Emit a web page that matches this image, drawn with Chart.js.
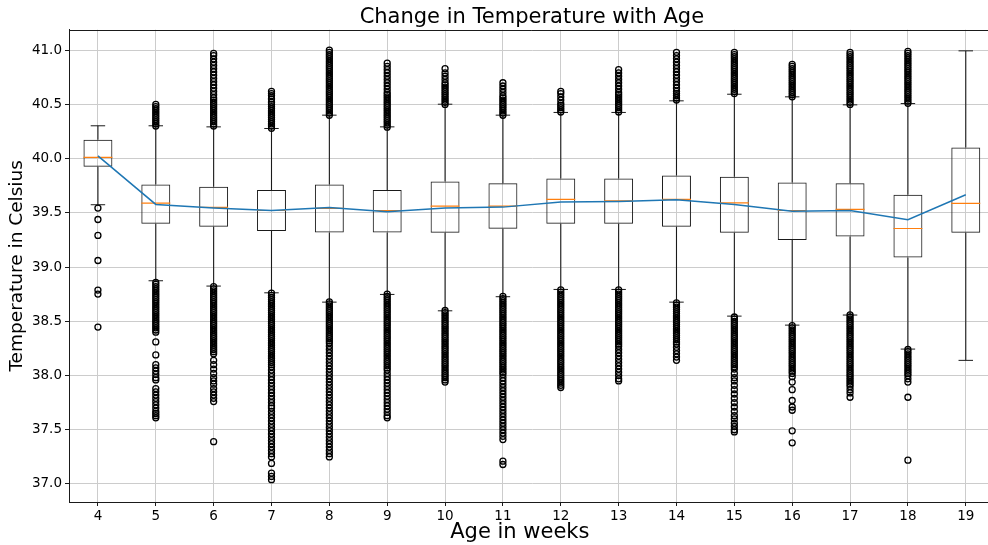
<!DOCTYPE html>
<html lang="en">
<head>
  <meta charset="UTF-8" />
  <title>Change in Temperature with Age</title>
  <style>
    html, body {
      margin: 0;
      padding: 0;
      background: #fff;
      overflow: hidden;
    }

    #wrap {
      width: 1000px;
      height: 545px;
    }
  </style>
</head>
<body>
  <div id="wrap">
    <canvas id="boxChart" width="1000" height="545"></canvas>
  </div>

  <script src="https://cdn.jsdelivr.net/npm/chart.js"></script>
  <script>
    // datos
    const weeks = [4, 5, 6, 7, 8, 9, 10, 11, 12, 13, 14, 15, 16, 17, 18, 19];
    const q1 = [39.925, 39.40, 39.372, 39.332, 39.32, 39.32, 39.316, 39.353, 39.40, 39.40, 39.372, 39.316, 39.249, 39.283, 39.089, 39.316];
    const q3 = [40.174, 39.762, 39.740, 39.710, 39.762, 39.710, 39.790, 39.774, 39.817, 39.817, 39.845, 39.833, 39.780, 39.774, 39.667, 40.103];
    const medians = [40.011, 39.590, 39.550, 39.522, 39.541, 39.522, 39.562, 39.562, 39.624, 39.611, 39.624, 39.593, 39.522, 39.532, 39.356, 39.587];
    const whiskerLo = [39.575, 38.874, 38.825, 38.763, 38.677, 38.748, 38.597, 38.727, 38.794, 38.794, 38.677, 38.548, 38.465, 38.558, 38.244, 38.140];
    const whiskerHi = [40.303, 40.303, 40.293, 40.278, 40.401, 40.293, 40.502, 40.401, 40.426, 40.426, 40.533, 40.594, 40.570, 40.496, 40.508, 40.994];
    const means = [40.026, 39.578, 39.545, 39.522, 39.55, 39.51, 39.545, 39.553, 39.60, 39.605, 39.62, 39.577, 39.515, 39.522, 39.436, 39.667];
    const yTicks = [37.0, 37.5, 38.0, 38.5, 39.0, 39.5, 40.0, 40.5, 41.0];

    const fliersHigh = [
      [],
      [40.30, 40.32, 40.34, 40.36, 40.38, 40.40, 40.42, 40.44, 40.46, 40.48, 40.50],
      [40.30, 40.32, 40.34, 40.36, 40.38, 40.40, 40.42, 40.44, 40.46, 40.48, 40.50, 40.52, 40.54, 40.56, 40.59, 40.62, 40.65, 40.68, 40.71, 40.74, 40.77, 40.80, 40.83, 40.86, 40.89, 40.92, 40.95, 40.97],
      [40.28, 40.30, 40.32, 40.34, 40.36, 40.38, 40.40, 40.42, 40.44, 40.46, 40.48, 40.50, 40.52, 40.55, 40.58, 40.60, 40.62],
      [40.40, 40.42, 40.44, 40.46, 40.48, 40.50, 40.52, 40.54, 40.56, 40.58, 40.60, 40.62, 40.64, 40.66, 40.68, 40.70, 40.72, 40.74, 40.76, 40.78, 40.80, 40.82, 40.84, 40.86, 40.88, 40.90, 40.92, 40.94, 40.96, 40.98, 41.00],
      [40.29, 40.31, 40.33, 40.35, 40.37, 40.39, 40.41, 40.43, 40.45, 40.47, 40.49, 40.51, 40.53, 40.55, 40.57, 40.59, 40.61, 40.64, 40.67, 40.70, 40.73, 40.76, 40.79, 40.82, 40.85, 40.88],
      [40.50, 40.52, 40.54, 40.56, 40.58, 40.60, 40.62, 40.64, 40.66, 40.68, 40.70, 40.73, 40.76, 40.79, 40.83],
      [40.40, 40.42, 40.44, 40.46, 40.48, 40.50, 40.52, 40.54, 40.56, 40.58, 40.61, 40.64, 40.67, 40.70],
      [40.43, 40.45, 40.47, 40.49, 40.51, 40.54, 40.57, 40.60, 40.62],
      [40.43, 40.45, 40.47, 40.49, 40.51, 40.53, 40.55, 40.57, 40.59, 40.61, 40.64, 40.67, 40.70, 40.73, 40.76, 40.79, 40.82],
      [40.54, 40.56, 40.58, 40.60, 40.62, 40.65, 40.68, 40.71, 40.74, 40.77, 40.80, 40.83, 40.86, 40.89, 40.92, 40.95, 40.98],
      [40.60, 40.62, 40.64, 40.66, 40.68, 40.70, 40.72, 40.74, 40.76, 40.78, 40.80, 40.82, 40.84, 40.86, 40.88, 40.90, 40.92, 40.94, 40.96, 40.98],
      [40.57, 40.59, 40.61, 40.63, 40.65, 40.67, 40.69, 40.71, 40.73, 40.75, 40.77, 40.79, 40.81, 40.83, 40.85, 40.87],
      [40.50, 40.52, 40.54, 40.56, 40.58, 40.60, 40.62, 40.64, 40.66, 40.68, 40.70, 40.72, 40.74, 40.76, 40.78, 40.80, 40.82, 40.84, 40.86, 40.88, 40.90, 40.92, 40.94, 40.96, 40.98],
      [40.51, 40.53, 40.55, 40.57, 40.59, 40.61, 40.63, 40.65, 40.67, 40.69, 40.71, 40.73, 40.75, 40.77, 40.79, 40.81, 40.83, 40.85, 40.87, 40.89, 40.91, 40.93, 40.95, 40.97, 40.99],
      []
    ];

    const fliersLow = [
      [39.544, 39.439, 39.292, 39.061, 38.788, 38.751, 38.447],
      [38.86, 38.84, 38.82, 38.80, 38.78, 38.76, 38.74, 38.72, 38.70, 38.68, 38.66, 38.64, 38.62, 38.60, 38.58, 38.56, 38.54, 38.52, 38.50, 38.48, 38.46, 38.44, 38.42, 38.40, 38.31, 38.19, 38.10, 38.07, 38.04, 38.01, 37.98, 37.96, 37.88, 37.85, 37.82, 37.79, 37.76, 37.73, 37.70, 37.67, 37.65, 37.63, 37.61],
      [38.82, 38.80, 38.78, 38.76, 38.74, 38.72, 38.70, 38.68, 38.66, 38.64, 38.62, 38.60, 38.58, 38.56, 38.54, 38.52, 38.50, 38.48, 38.46, 38.44, 38.42, 38.40, 38.38, 38.36, 38.34, 38.32, 38.30, 38.28, 38.26, 38.24, 38.22, 38.20, 38.14, 38.10, 38.06, 38.02, 37.98, 37.95, 37.92, 37.88, 37.85, 37.82, 37.79, 37.76, 37.39],
      [38.76, 38.74, 38.72, 38.70, 38.68, 38.66, 38.64, 38.62, 38.60, 38.58, 38.56, 38.54, 38.52, 38.50, 38.48, 38.46, 38.44, 38.42, 38.40, 38.38, 38.36, 38.34, 38.32, 38.30, 38.28, 38.26, 38.24, 38.22, 38.20, 38.18, 38.16, 38.14, 38.12, 38.10, 38.08, 38.05, 38.02, 37.99, 37.96, 37.93, 37.90, 37.87, 37.84, 37.81, 37.78, 37.75, 37.72, 37.70, 37.67, 37.64, 37.61, 37.58, 37.55, 37.52, 37.49, 37.46, 37.43, 37.40, 37.37, 37.34, 37.31, 37.28, 37.25, 37.19, 37.10, 37.07, 37.04],
      [38.68, 38.66, 38.64, 38.62, 38.60, 38.58, 38.56, 38.54, 38.52, 38.50, 38.48, 38.46, 38.44, 38.42, 38.40, 38.38, 38.36, 38.34, 38.32, 38.30, 38.27, 38.24, 38.21, 38.18, 38.15, 38.12, 38.09, 38.06, 38.03, 38.00, 37.97, 37.94, 37.91, 37.88, 37.85, 37.82, 37.79, 37.76, 37.73, 37.70, 37.67, 37.64, 37.61, 37.58, 37.55, 37.52, 37.49, 37.46, 37.43, 37.40, 37.37, 37.34, 37.31, 37.28, 37.25],
      [38.75, 38.73, 38.71, 38.69, 38.67, 38.65, 38.63, 38.61, 38.59, 38.57, 38.55, 38.53, 38.51, 38.49, 38.47, 38.45, 38.43, 38.41, 38.39, 38.37, 38.35, 38.33, 38.31, 38.29, 38.27, 38.25, 38.23, 38.21, 38.19, 38.17, 38.15, 38.13, 38.11, 38.09, 38.07, 38.05, 38.02, 37.99, 37.96, 37.93, 37.90, 37.87, 37.84, 37.81, 37.78, 37.75, 37.72, 37.69, 37.66, 37.63, 37.61],
      [38.60, 38.58, 38.56, 38.54, 38.52, 38.50, 38.48, 38.46, 38.44, 38.42, 38.40, 38.38, 38.36, 38.34, 38.32, 38.30, 38.28, 38.26, 38.24, 38.22, 38.20, 38.18, 38.16, 38.14, 38.12, 38.10, 38.08, 38.06, 38.04, 38.02, 38.00, 37.98, 37.96, 37.94],
      [38.73, 38.71, 38.69, 38.67, 38.65, 38.63, 38.61, 38.59, 38.57, 38.55, 38.53, 38.51, 38.49, 38.47, 38.45, 38.43, 38.41, 38.39, 38.37, 38.35, 38.33, 38.31, 38.29, 38.27, 38.25, 38.23, 38.21, 38.19, 38.17, 38.15, 38.13, 38.11, 38.09, 38.07, 38.05, 38.03, 38.01, 37.98, 37.95, 37.92, 37.89, 37.86, 37.83, 37.80, 37.77, 37.74, 37.71, 37.68, 37.65, 37.62, 37.59, 37.56, 37.53, 37.50, 37.47, 37.44, 37.41, 37.21, 37.18],
      [38.79, 38.77, 38.75, 38.73, 38.71, 38.69, 38.67, 38.65, 38.63, 38.61, 38.59, 38.57, 38.55, 38.53, 38.51, 38.49, 38.47, 38.45, 38.43, 38.41, 38.39, 38.37, 38.35, 38.33, 38.31, 38.29, 38.27, 38.25, 38.23, 38.21, 38.19, 38.17, 38.15, 38.13, 38.11, 38.09, 38.07, 38.05, 38.03, 38.01, 37.99, 37.97, 37.95, 37.93, 37.91, 37.89],
      [38.79, 38.77, 38.75, 38.73, 38.71, 38.69, 38.67, 38.65, 38.63, 38.61, 38.59, 38.57, 38.55, 38.53, 38.51, 38.49, 38.47, 38.45, 38.43, 38.41, 38.39, 38.37, 38.35, 38.33, 38.31, 38.29, 38.27, 38.24, 38.21, 38.18, 38.15, 38.12, 38.09, 38.06, 38.03, 38.00, 37.97, 37.95],
      [38.67, 38.65, 38.63, 38.61, 38.59, 38.57, 38.55, 38.53, 38.51, 38.49, 38.47, 38.45, 38.43, 38.41, 38.39, 38.37, 38.35, 38.33, 38.31, 38.29, 38.26, 38.23, 38.20, 38.17, 38.14],
      [38.54, 38.52, 38.50, 38.48, 38.46, 38.44, 38.42, 38.40, 38.38, 38.36, 38.34, 38.32, 38.30, 38.28, 38.26, 38.24, 38.22, 38.20, 38.18, 38.16, 38.14, 38.12, 38.10, 38.08, 38.06, 38.02, 37.98, 37.95, 37.91, 37.87, 37.83, 37.79, 37.75, 37.71, 37.67, 37.63, 37.60, 37.56, 37.53, 37.50, 37.48],
      [38.46, 38.44, 38.42, 38.40, 38.38, 38.36, 38.34, 38.32, 38.30, 38.28, 38.26, 38.24, 38.22, 38.20, 38.18, 38.16, 38.14, 38.12, 38.10, 38.08, 38.06, 38.04, 38.02, 37.99, 37.94, 37.87, 37.77, 37.71, 37.68, 37.49, 37.38],
      [38.56, 38.54, 38.52, 38.50, 38.48, 38.46, 38.44, 38.42, 38.40, 38.38, 38.36, 38.34, 38.32, 38.30, 38.28, 38.26, 38.24, 38.22, 38.20, 38.18, 38.16, 38.14, 38.12, 38.10, 38.08, 38.06, 38.04, 38.02, 38.00, 37.98, 37.96, 37.94, 37.92, 37.90, 37.87, 37.84, 37.80],
      [38.24, 38.22, 38.20, 38.18, 38.16, 38.14, 38.12, 38.10, 38.08, 38.06, 38.04, 38.02, 38.00, 37.97, 37.94, 37.80, 37.22],
      []
    ];

    const FONT = "'DejaVu Sans', sans-serif";
    const INK = '#1a1a1a';

    // medio ancho en pixeles, sacado de la escala x
    function halfWidth(ctx, units) {
      const s = ctx.chart.scales.x;
      return Math.abs(s.getPixelForValue(units) - s.getPixelForValue(0));
    }

    const boxData = weeks.map((w, i) => ({ x: w, y: [q1[i], q3[i]] }));

    const whiskerData = [];
    weeks.forEach((w, i) => {
      whiskerData.push({ x: w, y: q3[i] }, { x: w, y: whiskerHi[i] }, { x: w, y: null });
      whiskerData.push({ x: w, y: q1[i] }, { x: w, y: whiskerLo[i] }, { x: w, y: null });
    });

    const capData = [];
    weeks.forEach((w, i) => {
      capData.push({ x: w, y: whiskerHi[i] }, { x: w, y: whiskerLo[i] });
    });

    const medianData = weeks.map((w, i) => ({ x: w, y: medians[i] }));
    const meanData = weeks.map((w, i) => ({ x: w, y: means[i] }));

    const flierData = [];
    weeks.forEach((w, i) => {
      fliersHigh[i].forEach(v => flierData.push({ x: w, y: v }));
      fliersLow[i].forEach(v => flierData.push({ x: w, y: v }));
    });

    // marco de arriba y etiqueta del eje x (un poco a la izquierda, como en el original)
    const extras = {
      id: 'extras',
      afterDraw(chart) {
        const { ctx, chartArea } = chart;
        ctx.save();
        ctx.strokeStyle = INK;
        ctx.lineWidth = 1;
        ctx.beginPath();
        ctx.moveTo(chartArea.left, Math.round(chartArea.top) + 0.5);
        ctx.lineTo(chartArea.right, Math.round(chartArea.top) + 0.5);
        ctx.stroke();

        ctx.fillStyle = '#000';
        ctx.font = '21px ' + FONT;
        ctx.textAlign = 'center';
        ctx.textBaseline = 'middle';
        ctx.fillText('Age in weeks', (chartArea.left + chartArea.right) / 2 - 12, 533);
        ctx.restore();
      }
    };

    const chart = new Chart(document.getElementById('boxChart'), {
      type: 'bar',
      data: {
        datasets: [
          {
            type: 'line',
            data: meanData,
            borderColor: '#1f77b4',
            borderWidth: 1.5,
            pointRadius: 0,
            tension: 0,
            order: 0
          },
          {
            type: 'scatter',
            data: flierData,
            pointStyle: 'circle',
            pointRadius: 3,
            backgroundColor: 'rgba(0,0,0,0)',
            borderColor: '#000',
            borderWidth: 1.3,
            order: 1
          },
          {
            type: 'scatter',
            data: medianData,
            pointStyle: 'line',
            pointRadius: (c) => halfWidth(c, 0.25),
            borderColor: '#ff7f0e',
            borderWidth: 1.2,
            order: 2
          },
          {
            type: 'scatter',
            data: capData,
            pointStyle: 'line',
            pointRadius: (c) => halfWidth(c, 0.125),
            borderColor: INK,
            borderWidth: 1,
            order: 3
          },
          {
            type: 'line',
            data: whiskerData,
            borderColor: INK,
            borderWidth: 1.1,
            pointRadius: 0,
            spanGaps: false,
            order: 4
          },
          {
            type: 'bar',
            data: boxData,
            backgroundColor: 'rgba(0,0,0,0)',
            borderColor: INK,
            borderWidth: 1,
            borderSkipped: false,
            barPercentage: 0.5,
            categoryPercentage: 1.0,
            order: 5
          }
        ]
      },
      options: {
        responsive: false,
        animation: false,
        events: [],
        layout: { padding: { left: 0, right: 3, top: 0, bottom: 0 } },
        plugins: {
          legend: { display: false },
          tooltip: { enabled: false },
          title: {
            display: true,
            text: 'Change in Temperature with Age',
            fullSize: false,
            color: '#000',
            font: { family: FONT, size: 21, weight: 'normal', lineHeight: 1.2 },
            padding: { top: 4.5, bottom: 0 }
          }
        },
        scales: {
          x: {
            type: 'linear',
            min: 3.5,
            max: 19.5,
            offset: false,
            afterBuildTicks: (s) => { s.ticks = weeks.map(v => ({ value: v })); },
            afterFit: (s) => { s.height = 43; },
            ticks: {
              autoSkip: false,
              maxRotation: 0,
              padding: 2,
              color: '#000',
              font: { family: FONT, size: 13.5 }
            },
            grid: { offset: false, color: '#cccccc', tickColor: INK, tickLength: 4 },
            border: { color: INK },
            title: { display: false }
          },
          y: {
            type: 'linear',
            min: 36.834,
            max: 41.189,
            afterBuildTicks: (s) => { s.ticks = yTicks.map(v => ({ value: v })); },
            afterFit: (s) => { s.width = 69; },
            ticks: {
              padding: 3,
              color: '#000',
              font: { family: FONT, size: 13.5 },
              callback: (v) => Number(v).toFixed(1)
            },
            grid: { color: '#cccccc', tickColor: INK, tickLength: 4 },
            border: { color: INK },
            title: {
              display: true,
              text: 'Temperature in Celsius',
              color: '#000',
              font: { family: FONT, size: 18.5, lineHeight: 1.2 },
              padding: { top: 6, bottom: 0 }
            }
          }
        }
      },
      plugins: [extras]
    });
  </script>
</body>
</html>
